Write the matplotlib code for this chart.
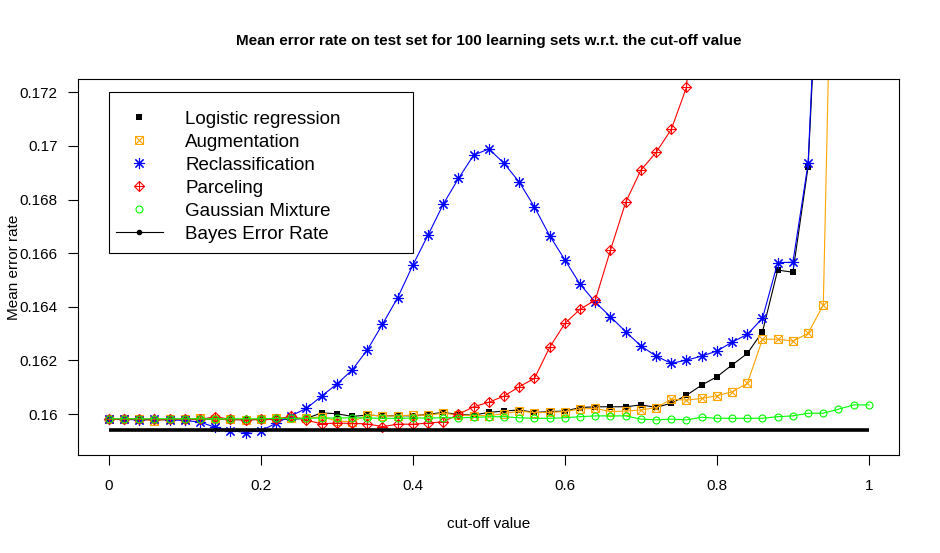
import numpy as np
import matplotlib
matplotlib.use("Agg")
import matplotlib.pyplot as plt
from matplotlib.lines import Line2D
from matplotlib.patches import Rectangle
from matplotlib.ticker import FuncFormatter

plt.rcParams['font.family'] = ['Liberation Sans', 'DejaVu Sans']

# cut-off values 0, 0.02, ..., 1
cutoff = np.linspace(0, 1, 51)

logistic = [0.1598, 0.1598, 0.1598, 0.15978, 0.1598, 0.1598, 0.15982, 0.1598, 0.1598, 0.15978,
            0.1598, 0.15982, 0.1598, 0.15984, 0.16004, 0.16001, 0.15991, 0.15996, 0.15993, 0.15994,
            0.15993, 0.15999, 0.16006, 0.15998, 0.15996, 0.16006, 0.16011, 0.16015, 0.16006, 0.16009,
            0.16011, 0.16024, 0.16027, 0.16027, 0.16027, 0.16034, 0.16025, 0.1604, 0.1607, 0.16108,
            0.16139, 0.16183, 0.16226, 0.16307, 0.16537, 0.16529, 0.16923, 0.181, None, None, None]

augmentation = [0.1598, 0.1598, 0.1598, 0.15975, 0.1598, 0.1598, 0.15984, 0.15981, 0.15981, 0.15978,
                0.15981, 0.15984, 0.15986, 0.15984, 0.1599, 0.15974, 0.15971, 0.15996, 0.15993, 0.15993,
                0.15996, 0.15996, 0.16003, 0.15996, 0.15994, 0.15994, 0.16001, 0.16011, 0.16005, 0.16006,
                0.16009, 0.16019, 0.16021, 0.16009, 0.16011, 0.16015, 0.16024, 0.16055, 0.16052, 0.16058,
                0.16068, 0.16083, 0.16114, 0.16279, 0.16279, 0.16272, 0.16301, 0.16407, 0.19, None, None]

reclassification = [0.1598, 0.1598, 0.15978, 0.1598, 0.15978, 0.15976, 0.1597, 0.1595, 0.15938, 0.15931,
                    0.15938, 0.15965, 0.15994, 0.16021, 0.16067, 0.16112, 0.16164, 0.16239, 0.16335, 0.16434,
                    0.16556, 0.16668, 0.16783, 0.16879, 0.16966, 0.16989, 0.16935, 0.16865, 0.16772, 0.16665,
                    0.16575, 0.16484, 0.16417, 0.16363, 0.16307, 0.16254, 0.16216, 0.16189, 0.16201, 0.16216,
                    0.16235, 0.16268, 0.16297, 0.16357, 0.16565, 0.16566, 0.16935, 0.182, None, None, None]

parceling = [0.1598, 0.1598, 0.15982, 0.1598, 0.1598, 0.1598, 0.1598, 0.1599, 0.1598, 0.15978,
             0.1598, 0.1598, 0.15992, 0.15976, 0.15964, 0.15966, 0.15965, 0.15963, 0.15953, 0.15962,
             0.15962, 0.15966, 0.15971, 0.15999, 0.16027, 0.16044, 0.16067, 0.16102, 0.16133, 0.16249,
             0.16338, 0.16391, 0.16425, 0.16612, 0.1679, 0.1691, 0.16976, 0.17062, 0.17219, 0.18,
             None, None, None, None, None, None, None, None, None, None, None]

gaussian = [0.15982, 0.15982, 0.15982, 0.15982, 0.15982, 0.15982, 0.15982, 0.15982, 0.15982, 0.15982,
            0.15982, 0.15984, 0.15984, 0.15984, 0.15985, 0.15985, 0.15986, 0.15985, 0.15984, 0.15984,
            0.15985, 0.15985, 0.15986, 0.15986, 0.15987, 0.1599, 0.1599, 0.15986, 0.15984, 0.15984,
            0.15986, 0.1599, 0.15993, 0.15993, 0.15993, 0.15981, 0.15978, 0.15981, 0.15978, 0.15988,
            0.15984, 0.15984, 0.15984, 0.15984, 0.1599, 0.15993, 0.16003, 0.16003, 0.16018, 0.16034, 0.16034]

bayes_rate = 0.1594

labels = ['Logistic regression', 'Augmentation', 'Reclassification', 'Parceling',
          'Gaussian Mixture', 'Bayes Error Rate']


def arr(v):
    return np.array([np.nan if a is None else a for a in v], dtype=float)


fig = plt.figure(figsize=(9.4, 5.53), dpi=100)
ax = fig.add_axes([0.0835, 0.1767, 0.8732, 0.681])

lw = 0.8
mew = 0.8

# logistic regression: filled black squares
ax.plot(cutoff, arr(logistic), color='black', lw=lw, marker='s', ms=5, mew=0)
# augmentation: orange square with a cross
ax.plot(cutoff, arr(augmentation), color='orange', lw=lw, marker='s', ms=5.4, mfc='none', mew=mew)
ax.plot(cutoff, arr(augmentation), ls='none', color='orange', marker='x', ms=5.2, mew=mew)
# reclassification: blue asterisk
ax.plot(cutoff, arr(reclassification), color='blue', lw=lw, marker=(8, 2, 0), ms=8, mew=mew)
# parceling: red diamond with plus
ax.plot(cutoff, arr(parceling), color='red', lw=lw, marker='D', ms=5.3, mfc='none', mew=mew)
ax.plot(cutoff, arr(parceling), ls='none', color='red', marker='+', ms=7.5, mew=mew)
# gaussian mixture: green open circles
ax.plot(cutoff, arr(gaussian), color='#00ff00', lw=lw, marker='o', ms=5, mfc='none', mew=mew)
# bayes error rate
ax.plot(cutoff, np.full_like(cutoff, bayes_rate), color='black', lw=2.6, solid_capstyle='butt')

ax.set_xlim(-0.04, 1.04)
ax.set_ylim(0.15846, 0.17251)
ax.set_xticks([0, 0.2, 0.4, 0.6, 0.8, 1.0])
ax.set_yticks([0.16, 0.162, 0.164, 0.166, 0.168, 0.17, 0.172])
fmt = FuncFormatter(lambda v, p: '%g' % round(v, 4))
ax.xaxis.set_major_formatter(fmt)
ax.yaxis.set_major_formatter(fmt)
ax.tick_params(axis='both', direction='out', length=7, width=0.8, labelsize=11, color='black')
ax.tick_params(axis='y', pad=8)
ax.tick_params(axis='x', pad=10)
for s in ax.spines.values():
    s.set_linewidth(0.8)

# legend: box drawn separately, entries without frame
ax.add_patch(Rectangle((0.0375, 0.5364), 0.3704, 0.4275, transform=ax.transAxes,
                       fill=True, facecolor='white', edgecolor='black', lw=0.8, zorder=4))
h_log = Line2D([], [], ls='none', color='black', marker='s', ms=5, mew=0)
h_aug = (Line2D([], [], ls='none', color='orange', marker='s', ms=5.4, mfc='none', mew=mew),
         Line2D([], [], ls='none', color='orange', marker='x', ms=5.2, mew=mew))
h_rec = Line2D([], [], ls='none', color='blue', marker=(8, 2, 0), ms=8, mew=mew)
h_par = (Line2D([], [], ls='none', color='red', marker='D', ms=5.3, mfc='none', mew=mew),
         Line2D([], [], ls='none', color='red', marker='+', ms=7.5, mew=mew))
h_gau = Line2D([], [], ls='none', color='#00ff00', marker='o', ms=5, mfc='none', mew=mew)
h_bay = Line2D([], [], color='black', lw=0.8, marker='o', ms=3)
leg = ax.legend([h_log, h_aug, h_rec, h_par, h_gau, h_bay], labels,
                loc='upper left', bbox_to_anchor=(0.0457, 0.9148),
                borderaxespad=0, borderpad=0, fontsize=13.5, frameon=False,
                handlelength=2.5, handletextpad=1.2, labelspacing=0.31)
leg.set_zorder(5)

fig.text(0.5201, 0.925, 'Mean error rate on test set for 100 learning sets w.r.t. the cut-off value',
         ha='center', va='center', fontsize=11, fontweight='bold')
fig.text(0.5201, 0.0525, 'cut-off value', ha='center', va='center', fontsize=11)
fig.text(0.015, 0.517, 'Mean error rate', ha='center', va='center', rotation=90, fontsize=11)

fig.savefig('out.png', dpi=100)
